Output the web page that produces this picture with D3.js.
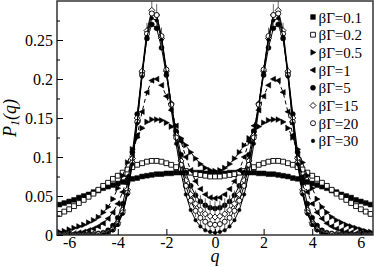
<!DOCTYPE html>
<html>
<head>
<meta charset="utf-8">
<script src="https://cdn.jsdelivr.net/npm/d3@7"></script>
<style>
  body { margin: 0; background: #fff; }
  svg { display: block; }
  text { font-family: "Liberation Serif", "Times New Roman", "DejaVu Serif", serif; }
</style>
</head>
<body>
<svg width="374" height="267"></svg>
<script>
// q grid of the measured points
const qValues = [-6.4,-6.2,-6.0,-5.8,-5.6,-5.4,-5.2,-5.0,-4.8,-4.6,-4.4,-4.2,-4.0,-3.8,-3.6,-3.4,-3.2,-3.0,-2.8,-2.6,-2.4,-2.2,-2.0,-1.8,-1.6,-1.4,-1.2,-1.0,-0.8,-0.6,-0.4,-0.2,0,0.2,0.4,0.6,0.8,1.0,1.2,1.4,1.6,1.8,2.0,2.2,2.4,2.6,2.8,3.0,3.2,3.4,3.6,3.8,4.0,4.2,4.4,4.6,4.8,5.0,5.2,5.4,5.6,5.8,6.0,6.2,6.4];

const p01 = [0.039,0.041,0.043,0.045,0.048,0.050,0.052,0.055,0.057,0.060,0.062,0.064,0.066,0.068,0.070,0.072,0.073,0.075,0.076,0.077,0.078,0.078,0.079,0.079,0.080,0.080,0.080,0.080,0.080,0.080,0.079,0.079,0.079,0.079,0.079,0.080,0.080,0.080,0.080,0.080,0.080,0.079,0.079,0.078,0.078,0.077,0.076,0.075,0.073,0.072,0.070,0.068,0.066,0.064,0.062,0.060,0.057,0.055,0.052,0.050,0.048,0.045,0.043,0.041,0.039];
const p02 = [0.027,0.030,0.033,0.037,0.041,0.045,0.049,0.053,0.058,0.063,0.067,0.072,0.076,0.080,0.084,0.087,0.090,0.092,0.094,0.095,0.095,0.094,0.092,0.090,0.087,0.085,0.082,0.080,0.078,0.077,0.076,0.075,0.075,0.075,0.076,0.077,0.078,0.080,0.082,0.085,0.087,0.090,0.092,0.094,0.095,0.095,0.094,0.092,0.090,0.087,0.084,0.080,0.076,0.072,0.067,0.063,0.058,0.053,0.049,0.045,0.041,0.037,0.033,0.030,0.027];
const p05 = [0.004,0.005,0.007,0.009,0.011,0.013,0.016,0.019,0.023,0.029,0.036,0.046,0.060,0.076,0.093,0.110,0.125,0.137,0.145,0.148,0.148,0.147,0.144,0.139,0.132,0.124,0.115,0.106,0.098,0.091,0.086,0.083,0.082,0.083,0.086,0.091,0.098,0.106,0.115,0.124,0.132,0.139,0.144,0.147,0.148,0.148,0.145,0.137,0.125,0.110,0.093,0.076,0.060,0.046,0.036,0.029,0.023,0.019,0.016,0.013,0.011,0.009,0.007,0.005,0.004];
const p1 = [0.001,0.001,0.002,0.002,0.003,0.004,0.006,0.008,0.011,0.015,0.021,0.029,0.040,0.055,0.075,0.100,0.128,0.158,0.183,0.198,0.200,0.192,0.178,0.160,0.140,0.120,0.100,0.083,0.069,0.059,0.052,0.048,0.047,0.048,0.052,0.059,0.069,0.083,0.100,0.120,0.140,0.160,0.178,0.192,0.200,0.198,0.183,0.158,0.128,0.100,0.075,0.055,0.040,0.029,0.021,0.015,0.011,0.008,0.006,0.004,0.003,0.002,0.002,0.001,0.001];
const p5 = [0,0,0,0,0,0,0.001,0.001,0.002,0.003,0.006,0.012,0.022,0.040,0.067,0.106,0.155,0.208,0.252,0.270,0.265,0.240,0.205,0.168,0.133,0.103,0.080,0.063,0.051,0.043,0.038,0.035,0.034,0.035,0.038,0.043,0.051,0.063,0.080,0.103,0.133,0.168,0.205,0.240,0.265,0.270,0.252,0.208,0.155,0.106,0.067,0.040,0.022,0.012,0.006,0.003,0.002,0.001,0.001,0,0,0,0,0,0];
const p15 = [0,0,0,0,0,0,0,0.001,0.001,0.002,0.004,0.008,0.016,0.032,0.058,0.098,0.150,0.210,0.262,0.288,0.282,0.252,0.210,0.168,0.128,0.095,0.070,0.052,0.040,0.032,0.027,0.024,0.023,0.024,0.027,0.032,0.040,0.052,0.070,0.095,0.128,0.168,0.210,0.252,0.282,0.288,0.262,0.210,0.150,0.098,0.058,0.032,0.016,0.008,0.004,0.002,0.001,0.001,0,0,0,0,0,0,0];
const p20 = [0,0,0,0,0,0,0,0,0.001,0.001,0.003,0.007,0.014,0.029,0.054,0.093,0.145,0.205,0.258,0.284,0.282,0.255,0.212,0.167,0.125,0.090,0.063,0.044,0.031,0.022,0.017,0.014,0.013,0.014,0.017,0.022,0.031,0.044,0.063,0.090,0.125,0.167,0.212,0.255,0.282,0.284,0.258,0.205,0.145,0.093,0.054,0.029,0.014,0.007,0.003,0.001,0.001,0,0,0,0,0,0,0,0];
const p30 = [0,0,0,0,0,0,0,0,0,0.001,0.003,0.006,0.013,0.027,0.052,0.091,0.143,0.203,0.254,0.278,0.275,0.250,0.208,0.161,0.117,0.080,0.052,0.032,0.019,0.011,0.006,0.004,0.003,0.004,0.006,0.011,0.019,0.032,0.052,0.080,0.117,0.161,0.208,0.250,0.275,0.278,0.254,0.203,0.143,0.091,0.052,0.027,0.013,0.006,0.003,0.001,0,0,0,0,0,0,0,0,0];
// error bars drawn on the βΓ=15 points
const err15 = [0,0,0,0,0,0,0,0,0,0,0,0,0,0,0.001,0.002,0.003,0.006,0.010,0.012,0.014,0.014,0.008,0.004,0.004,0.006,0.010,0.014,0.017,0.019,0.020,0.020,0.020,0.020,0.020,0.019,0.017,0.014,0.010,0.006,0.004,0.004,0.008,0.014,0.014,0.012,0.010,0.006,0.003,0.002,0.001,0,0,0,0,0,0,0,0,0,0,0,0,0,0];

const seriesLabels = ["βΓ=0.1", "βΓ=0.2", "βΓ=0.5", "βΓ=1", "βΓ=5", "βΓ=15", "βΓ=20", "βΓ=30"];
const xTicks = [-6, -4, -2, 0, 2, 4, 6];
const yTicks = [0, 0.05, 0.1, 0.15, 0.2, 0.25];
const yMinorTicks = [0.025, 0.075, 0.125, 0.175, 0.225, 0.275];

const series = [
  { label: seriesLabels[0], values: p01, marker: "square", fill: true, dash: null },
  { label: seriesLabels[1], values: p02, marker: "square", fill: false, dash: null },
  { label: seriesLabels[2], values: p05, marker: "triRight", fill: true, dash: "4,3" },
  { label: seriesLabels[3], values: p1, marker: "triLeft", fill: true, dash: "4,3" },
  { label: seriesLabels[4], values: p5, marker: "circle", fill: true, dash: null },
  { label: seriesLabels[5], values: p15, marker: "diamond", fill: false, dash: null, err: err15 },
  { label: seriesLabels[6], values: p20, marker: "circle", fill: false, dash: null },
  { label: seriesLabels[7], values: p30, marker: "dot", fill: true, dash: null },
];

const FONT = "'Liberation Serif', 'Times New Roman', 'DejaVu Serif', serif";
const margin = { left: 57, right: 1, top: 1, bottom: 32 };
const width = 374, height = 267;

const svg = d3.select("svg");
const x = d3.scaleLinear().domain([-6.5, 6.5]).range([margin.left, width - margin.right]);
const y = d3.scaleLinear().domain([0, 0.3]).range([height - margin.bottom, margin.top]);

// marker path at the origin
function markerPath(kind) {
  switch (kind) {
    case "square": return "M-2.4,-2.4H2.4V2.4H-2.4Z";
    case "triRight": return "M3,0L-2.2,-2.8L-2.2,2.8Z";
    case "triLeft": return "M-3,0L2.2,-2.8L2.2,2.8Z";
    case "diamond": return "M0,-3L3,0L0,3L-3,0Z";
    case "circle": return d3.symbol(d3.symbolCircle, 20)();
    case "dot": return d3.symbol(d3.symbolCircle, 10)();
  }
}

svg.append("clipPath")
  .attr("id", "plot-clip")
  .append("rect")
  .attr("x", margin.left)
  .attr("y", margin.top)
  .attr("width", width - margin.left - margin.right)
  .attr("height", height - margin.top - margin.bottom);

const plot = svg.append("g").attr("clip-path", "url(#plot-clip)");

series.forEach((s) => {
  const pts = qValues.map((q, i) => ({ q, p: s.values[i], e: s.err ? s.err[i] : 0 }));
  const g = plot.append("g");

  if (s.err) {
    g.selectAll("line.err")
      .data(pts.filter((d) => d.e > 0))
      .enter()
      .append("line")
      .attr("x1", (d) => x(d.q))
      .attr("x2", (d) => x(d.q))
      .attr("y1", (d) => y(Math.max(0, d.p - d.e)))
      .attr("y2", (d) => y(d.p + d.e))
      .attr("stroke", "#444")
      .attr("stroke-width", 0.8);
  }

  g.append("path")
    .datum(pts)
    .attr("fill", "none")
    .attr("stroke", "#000")
    .attr("stroke-width", 1)
    .attr("stroke-dasharray", s.dash)
    .attr("d", d3.line().x((d) => x(d.q)).y((d) => y(d.p)));

  g.selectAll("path.mk")
    .data(pts)
    .enter()
    .append("path")
    .attr("class", "mk")
    .attr("transform", (d) => `translate(${x(d.q)},${y(d.p)})`)
    .attr("d", markerPath(s.marker))
    .attr("fill", s.fill ? "#000" : "#fff")
    .attr("stroke", "#000")
    .attr("stroke-width", s.fill ? 0.5 : 0.9);
});

// frame
svg.append("rect")
  .attr("x", margin.left)
  .attr("y", margin.top)
  .attr("width", width - margin.right - margin.left)
  .attr("height", height - margin.bottom - margin.top)
  .attr("fill", "none")
  .attr("stroke", "#333")
  .attr("stroke-width", 1.5);

// inward ticks
const xAxis = svg.append("g")
  .attr("transform", `translate(0,${height - margin.bottom})`)
  .call(d3.axisBottom(x).tickValues(xTicks).tickSize(-6).tickPadding(2).tickFormat((d) => String(d)));
const yAxis = svg.append("g")
  .attr("transform", `translate(${margin.left},0)`)
  .call(d3.axisLeft(y).tickValues(yTicks).tickSize(-6).tickPadding(4).tickFormat((d) => String(d)));
svg.append("g")
  .attr("transform", `translate(${margin.left},0)`)
  .call(d3.axisLeft(y).tickValues(yMinorTicks).tickSize(-3).tickFormat(""))
  .call((g) => g.select(".domain").remove());

[xAxis, yAxis].forEach((a) => {
  a.select(".domain").remove();
  a.selectAll("text").attr("font-family", FONT).attr("font-size", 16).attr("fill", "#000");
});
svg.selectAll(".tick line").attr("stroke", "#000");

// axis titles
svg.append("text")
  .attr("x", x(0))
  .attr("y", 262)
  .attr("text-anchor", "middle")
  .attr("font-family", FONT)
  .attr("font-size", 18)
  .attr("font-style", "italic")
  .text("q");

const yTitle = svg.append("text")
  .attr("transform", "translate(16,118) rotate(-90)")
  .attr("text-anchor", "middle")
  .attr("font-family", FONT)
  .attr("font-size", 18)
  .attr("font-style", "italic");
yTitle.append("tspan").text("P");
yTitle.append("tspan").attr("dy", 3).attr("font-size", 12).text("1");
yTitle.append("tspan").attr("dy", -3).text("(q)");

// legend
const legend = svg.append("g").attr("transform", "translate(313,17)");
series.forEach((s, i) => {
  const row = legend.append("g").attr("transform", `translate(0,${i * 17.7})`);
  row.append("path")
    .attr("d", markerPath(s.marker))
    .attr("fill", s.fill ? "#000" : "#fff")
    .attr("stroke", "#000")
    .attr("stroke-width", s.fill ? 0.5 : 0.9);
  row.append("text")
    .attr("x", 5.5)
    .attr("y", 5.5)
    .attr("font-family", FONT)
    .attr("font-size", 15)
    .text(s.label);
});
</script>
</body>
</html>
